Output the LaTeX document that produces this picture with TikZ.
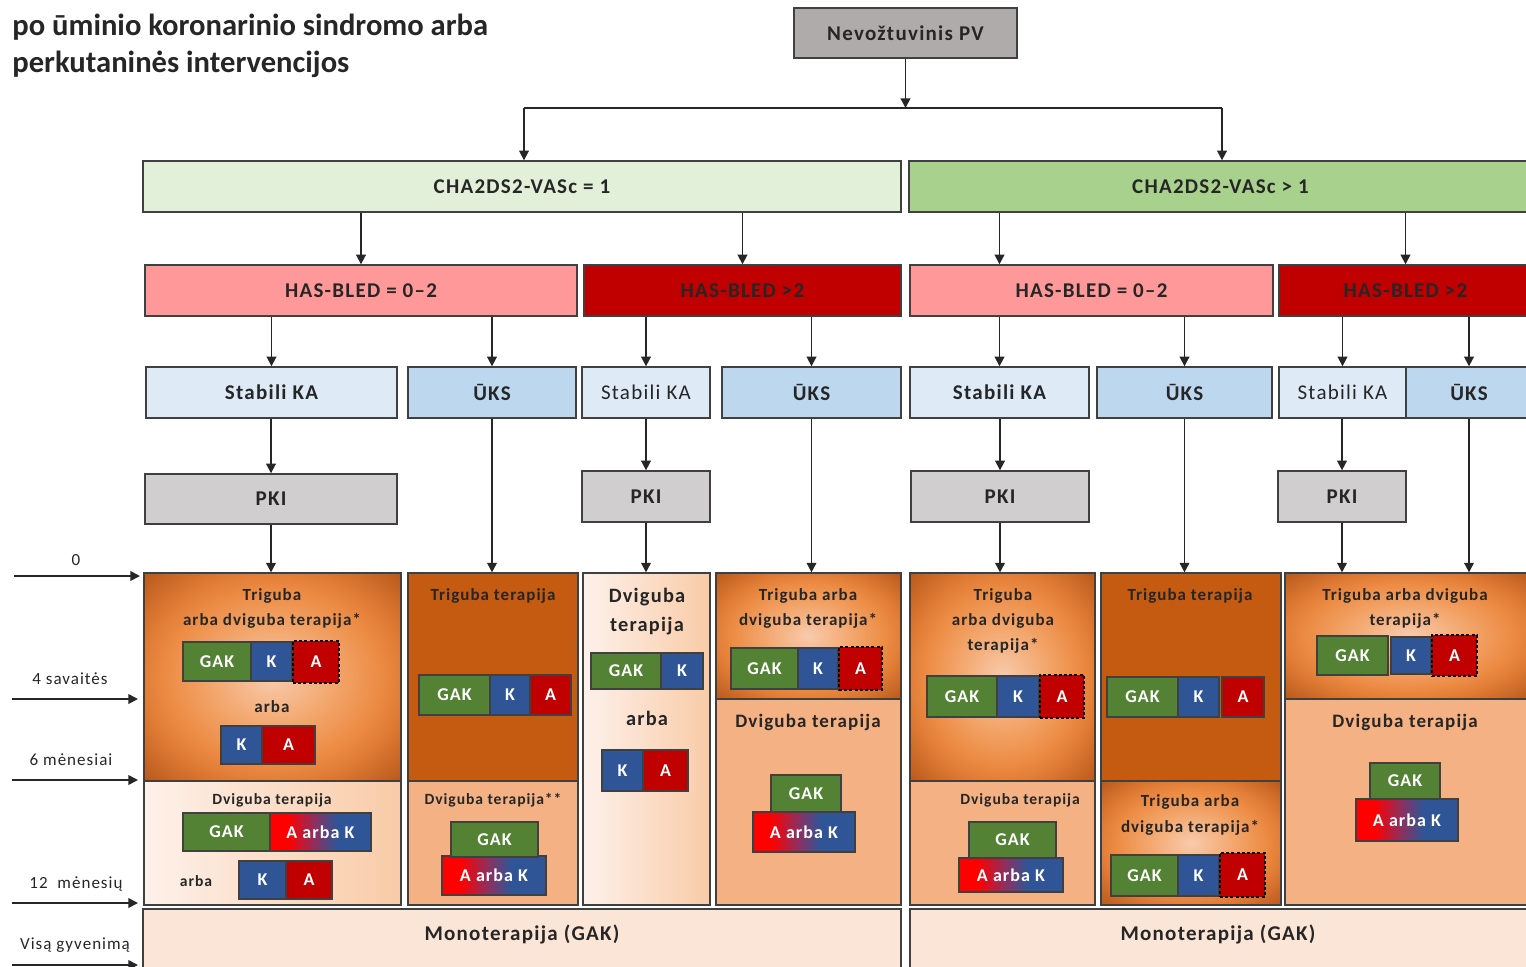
\documentclass[tikz,border=0pt]{standalone}
\usepackage{fontspec}
\setmainfont{Carlito}[LetterSpace=6]
\newfontfamily\titlefont{Carlito}
\usetikzlibrary{arrows.meta,calc}
\definecolor{bordc}{HTML}{404040}
\definecolor{txtc}{HTML}{262626}
\definecolor{nevc}{HTML}{AFABAB}
\definecolor{chaA}{HTML}{E2F0D9}
\definecolor{chaB}{HTML}{A9D18E}
\definecolor{hasA}{HTML}{FF9999}
\definecolor{hasB}{HTML}{C00000}
\definecolor{stabc}{HTML}{DEEBF7}
\definecolor{uksc}{HTML}{BDD7EE}
\definecolor{pkic}{HTML}{D0CECE}
\definecolor{darkor}{HTML}{C55A11}
\definecolor{peachc}{HTML}{F4B183}
\definecolor{monoc}{HTML}{FBE5D6}
\definecolor{gakc}{HTML}{548235}
\definecolor{kc}{HTML}{2F5597}
\definecolor{ac}{HTML}{C00000}
\definecolor{akred}{HTML}{FF0000}
\definecolor{akpur}{HTML}{8E2F5F}
\definecolor{oc1}{HTML}{F8CBAD}
\definecolor{oc2}{HTML}{F3A66C}
\definecolor{oc3}{HTML}{EC8B43}
\definecolor{oc4}{HTML}{DE7A34}
\definecolor{oc5}{HTML}{B5561A}
\definecolor{lp1}{HTML}{FDF1EA}
\definecolor{lp2}{HTML}{F9CBA7}
\pgfdeclareradialshading{orangerad}{\pgfpoint{0bp}{0bp}}{color(0bp)=(oc1);color(12bp)=(oc2);color(21bp)=(oc3);color(26bp)=(oc4);color(36bp)=(oc5);color(50bp)=(oc5)}
\pgfdeclarehorizontalshading{lightpeach}{100bp}{color(0bp)=(lp1);color(25bp)=(lp1);color(75bp)=(lp2);color(100bp)=(lp2)}
\pgfdeclarehorizontalshading{akshade}{100bp}{color(0bp)=(akred);color(34bp)=(akred);color(47bp)=(akpur);color(58bp)=(kc);color(100bp)=(kc)}
\newcommand\bx[7]{\node[#2, minimum width={(#5-#3)*0.5pt}, minimum height={(#6-#4)*0.5pt}] (#1) at ({(#3+#5)/2},{(#4+#6)/2}) {#7};}
\begin{document}
\begin{tikzpicture}[x=0.5pt,y=-0.5pt,
  hdr/.style={draw=bordc, line width=0.7pt, inner sep=0pt, text=txtc, font=\fontsize{10.5}{12}\selectfont\bfseries},
  hdrn/.style={hdr, font=\fontsize{10.5}{12}\selectfont},
  pill/.style={draw=bordc, line width=0.6pt, inner sep=0pt, text=white, font=\fontsize{9}{10}\selectfont\bfseries},
  pgak/.style={pill, fill=gakc},
  pk/.style={pill, fill=kc},
  pa/.style={pill, fill=ac},
  pad/.style={pill, fill=ac, draw=black, line width=1.4pt, dash pattern=on 1.5pt off 1.1pt},
  pak/.style={pill, shade, shading=akshade},
  panel/.style={draw=bordc, line width=0.6pt, inner sep=0pt},
  porange/.style={panel, shade, shading=orangerad},
  pdark/.style={panel, fill=darkor},
  ppeach/.style={panel, fill=peachc},
  plight/.style={panel, shade, shading=lightpeach},
  pmono/.style={panel, fill=monoc},
  ptxt/.style={text=txtc, align=center, inner sep=0pt, font=\fontsize{8.5}{12.5}\selectfont\bfseries},
  ptxts/.style={ptxt, font=\fontsize{7.8}{12}\selectfont\bfseries},
  ptxtb/.style={ptxt, font=\fontsize{9.5}{14.5}\selectfont\bfseries},
  axl/.style={text=txtc, inner sep=0pt, font=\fontsize{8.5}{10}\selectfont},
  arr/.style={draw=black!85, line width=0.9pt, -{Triangle[length=4.8pt,width=4.8pt]}},
  conn/.style={draw=black!85, line width=0.9pt}]
\useasboundingbox (0,0) rectangle (1526,966);
% title
\node[anchor=west, align=left, inner sep=0pt, text=txtc, font=\titlefont\fontsize{15.3}{18.5}\selectfont\bfseries] (title) at (12,45.5) {po ūminio koronarinio sindromo arba\\perkutaninės intervencijos};
% top
\bx{nev}{hdr, fill=nevc}{794}{8}{1017}{58}{Nevožtuvinis PV}
\bx{cha1}{hdr, fill=chaA}{143}{161}{901}{212}{CHA2DS2-VASc = 1}
\bx{cha2}{hdr, fill=chaB}{909}{161}{1532}{212}{CHA2DS2-VASc > 1}
\bx{has1}{hdr, fill=hasA}{145}{265}{577}{316}{HAS-BLED = 0–2}
\bx{has2}{hdr, fill=hasB}{584}{265}{901}{316}{HAS-BLED >2}
\bx{has3}{hdr, fill=hasA}{910}{265}{1273}{316}{HAS-BLED = 0–2}
\bx{has4}{hdr, fill=hasB}{1279}{265}{1532}{316}{HAS-BLED >2}
\bx{stab1}{hdr, fill=stabc}{146}{367}{397}{418}{Stabili KA}
\bx{uks1}{hdr, fill=uksc}{408}{367}{576}{418}{ŪKS}
\bx{stab2}{hdrn, fill=stabc}{582}{367}{710}{418}{Stabili KA}
\bx{uks2}{hdr, fill=uksc}{722}{367}{901}{418}{ŪKS}
\bx{stab3}{hdr, fill=stabc}{910}{367}{1089}{418}{Stabili KA}
\bx{uks3}{hdr, fill=uksc}{1097}{367}{1272}{418}{ŪKS}
\bx{stab4}{hdrn, fill=stabc}{1279}{367}{1406}{418}{Stabili KA}
\bx{uks4}{hdr, fill=uksc}{1406}{367}{1532}{418}{ŪKS}
\bx{pki1}{hdr, fill=pkic}{145}{474}{397}{524}{PKI}
\bx{pki2}{hdr, fill=pkic}{582}{471}{710}{522}{PKI}
\bx{pki3}{hdr, fill=pkic}{911}{471}{1089}{522}{PKI}
\bx{pki4}{hdr, fill=pkic}{1278}{471}{1406}{522}{PKI}
% panels
\bx{p1u}{porange}{144}{573}{401}{781}{}
\bx{p1l}{plight}{144}{781}{401}{905}{}
\bx{p2u}{pdark}{408}{573}{578}{781}{}
\bx{p2l}{ppeach}{408}{781}{578}{905}{}
\bx{p3}{plight}{583}{573}{710}{905}{}
\bx{p4u}{porange}{716}{573}{901}{699}{}
\bx{p4l}{ppeach}{716}{699}{901}{905}{}
\bx{p5u}{porange}{910}{573}{1095}{781}{}
\bx{p5l}{ppeach}{910}{781}{1095}{905}{}
\bx{p6u}{pdark}{1101}{573}{1281}{781}{}
\bx{p6l}{porange}{1101}{781}{1281}{905}{}
\bx{p7u}{porange}{1285}{573}{1532}{699}{}
\bx{p7l}{ppeach}{1285}{699}{1532}{905}{}
\bx{m1}{pmono}{143}{909}{901}{975}{}
\bx{m2}{pmono}{910}{909}{1532}{975}{}
\node[hdr, draw=none] (m1t) at (522,934) {Monoterapija (GAK)};
\node[hdr, draw=none] (m2t) at (1218,934) {Monoterapija (GAK)};
% connectors
\coordinate (jl) at (524,108);
\coordinate (jr) at (1222,108);
\draw[arr] (nev.south) -- (nev.south |- jl);
\draw[conn] (jl) -- (jr);
\draw[arr] (jl) -- (jl |- cha1.north);
\draw[arr] (jr) -- (jr |- cha2.north);
\draw[arr] (has1.north |- cha1.south) -- (has1.north);
\draw[arr] (has2.north |- cha1.south) -- (has2.north);
\draw[arr] (stab3.north |- cha2.south) -- (stab3.north |- has3.north);
\draw[arr] (has4.north |- cha2.south) -- (has4.north);
\draw[arr] (stab1.north |- has1.south) -- (stab1.north);
\draw[arr] (uks1.north |- has1.south) -- (uks1.north);
\draw[arr] (stab2.north |- has2.south) -- (stab2.north);
\draw[arr] (uks2.north |- has2.south) -- (uks2.north);
\draw[arr] (stab3.north |- has3.south) -- (stab3.north);
\draw[arr] (uks3.north |- has3.south) -- (uks3.north);
\draw[arr] (stab4.north |- has4.south) -- (stab4.north);
\draw[arr] (uks4.north |- has4.south) -- (uks4.north);
\draw[arr] (pki1.north |- stab1.south) -- (pki1.north);
\draw[arr] (pki2.north |- stab2.south) -- (pki2.north);
\draw[arr] (pki3.north |- stab3.south) -- (pki3.north);
\draw[arr] (pki4.north |- stab4.south) -- (pki4.north);
\draw[arr] (pki1.south) -- (pki1.south |- p1u.north);
\draw[arr] (uks1.south) -- (uks1.south |- p2u.north);
\draw[arr] (pki2.south) -- (pki2.south |- p3.north);
\draw[arr] (uks2.south) -- (uks2.south |- p4u.north);
\draw[arr] (pki3.south) -- (pki3.south |- p5u.north);
\draw[arr] (uks3.south) -- (uks3.south |- p6u.north);
\draw[arr] (pki4.south) -- (pki4.south |- p7u.north);
\draw[arr] (uks4.south) -- (uks4.south |- p7u.north);
% time axis
\coordinate (t0a) at (14,576); \coordinate (t0b) at (140,576);
\coordinate (t1a) at (12,699); \coordinate (t1b) at (138,699);
\coordinate (t2a) at (12,780); \coordinate (t2b) at (138,780);
\coordinate (t3a) at (12,903); \coordinate (t3b) at (138,903);
\coordinate (t4a) at (12,965); \coordinate (t4b) at (138,965);
\draw[arr] (t0a) -- (t0b);
\draw[arr] (t1a) -- (t1b);
\draw[arr] (t2a) -- (t2b);
\draw[arr] (t3a) -- (t3b);
\draw[arr] (t4a) -- (t4b);
\node[axl] (l0) at (76,560) {0};
\node[axl] (l1) at (70,679) {4 savaitės};
\node[axl] (l2) at (71,760) {6 mėnesiai};
\node[axl] (l3) at (76,884) {12\ \ mėnesių};
\node[axl] (l4) at (75,945) {Visą gyvenimą};
% column 1
\node[ptxt] (c1t) at (272,608.5) {Triguba\\arba dviguba terapija*};
\bx{c1g}{pgak}{183}{642}{251}{681}{GAK}
\bx{c1k}{pk}{251}{642}{292}{681}{K}
\bx{c1a}{pad}{293}{641}{339}{683}{A}
\node[ptxt] (c1o) at (272,707) {arba};
\bx{c1k2}{pk}{221}{726}{262}{764}{K}
\bx{c1a2}{pa}{262}{726}{315}{764}{A}
\node[ptxts] (c1lt) at (272,800) {Dviguba terapija};
\bx{c1g3}{pgak}{183}{813}{270}{851}{GAK}
\bx{c1ak}{pak}{270}{813}{371}{851}{A arba K}
\node[ptxts] (c1o2) at (196,881) {arba};
\bx{c1k4}{pk}{239}{861}{286}{899}{K}
\bx{c1a4}{pa}{286}{861}{332}{899}{A}
% column 2
\node[ptxt] (c2t) at (493,596) {Triguba terapija};
\bx{c2g}{pgak}{419}{675}{490}{715}{GAK}
\bx{c2k}{pk}{490}{675}{530}{715}{K}
\bx{c2a}{pa}{530}{675}{571}{715}{A}
\node[ptxts] (c2lt) at (493,800) {Dviguba terapija**};
\bx{c2ak}{pak}{442}{856}{546}{895}{A arba K}
\bx{c2g2}{pgak}{451}{822}{538}{857}{GAK}
% column 3
\node[ptxt, font=\fontsize{10.2}{14.5}\selectfont\bfseries] (c3t) at (647,611.5) {Dviguba\\terapija};
\bx{c3g}{pgak}{591}{653}{661}{689}{GAK}
\bx{c3k}{pk}{661}{653}{703}{689}{K}
\node[ptxt, font=\fontsize{10.2}{12}\selectfont\bfseries] (c3o) at (647,718) {arba};
\bx{c3k2}{pk}{602}{750}{643}{791}{K}
\bx{c3a2}{pa}{643}{750}{688}{791}{A}
% column 4
\node[ptxt] (c4t) at (808,608.5) {Triguba arba\\dviguba terapija*};
\bx{c4g}{pgak}{731}{648}{798}{689}{GAK}
\bx{c4k}{pk}{798}{648}{838}{689}{K}
\bx{c4a}{pad}{839}{647}{882}{690}{A}
\node[ptxtb] (c4lt) at (808,722) {Dviguba terapija};
\bx{c4ak}{pak}{753}{812}{855}{852}{A arba K}
\bx{c4g2}{pgak}{771}{775}{841}{812}{GAK}
% column 5
\node[ptxt] (c5t) at (1003,621) {Triguba\\arba dviguba\\terapija*};
\bx{c5g}{pgak}{927}{676}{997}{717}{GAK}
\bx{c5k}{pk}{997}{676}{1039}{717}{K}
\bx{c5a}{pad}{1040}{675}{1084}{718}{A}
\node[ptxts] (c5lt) at (1020,800) {Dviguba terapija};
\bx{c5ak}{pak}{959}{858}{1063}{892}{A arba K}
\bx{c5g2}{pgak}{969}{822}{1056}{858}{GAK}
% column 6
\node[ptxt] (c6t) at (1190,596) {Triguba terapija};
\bx{c6g}{pgak}{1107}{677}{1178}{717}{GAK}
\bx{c6k}{pk}{1178}{677}{1219}{717}{K}
\bx{c6a}{pa}{1222}{677}{1264}{717}{A}
\node[ptxt, font=\fontsize{8.5}{13}\selectfont\bfseries] (c6lt) at (1190,815) {Triguba arba\\dviguba terapija*};
\bx{c6g2}{pgak}{1111}{855}{1178}{896}{GAK}
\bx{c6k2}{pk}{1178}{855}{1219}{896}{K}
\bx{c6a2}{pad}{1220}{853}{1265}{897}{A}
% column 7
\node[ptxt] (c7t) at (1405,608.5) {Triguba arba dviguba\\terapija*};
\bx{c7g}{pgak}{1317}{636}{1388}{675}{GAK}
\bx{c7k}{pk}{1391}{637}{1431}{674}{K}
\bx{c7a}{pad}{1432}{635}{1477}{676}{A}
\node[ptxtb] (c7lt) at (1405,722) {Dviguba terapija};
\bx{c7ak}{pak}{1356}{799}{1458}{841}{A arba K}
\bx{c7g2}{pgak}{1370}{763}{1440}{799}{GAK}
\end{tikzpicture}
\end{document}
